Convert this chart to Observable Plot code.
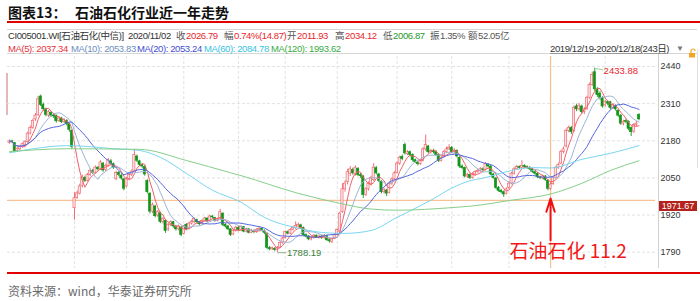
<!DOCTYPE html>
<html><head><meta charset="utf-8">
<script src="https://cdn.jsdelivr.net/npm/d3@7"></script>
<script src="https://cdn.jsdelivr.net/npm/@observablehq/plot@0.6"></script>
<style>
body{margin:0;background:#fff;}
#wrap{position:relative;width:700px;height:301px;overflow:hidden;font-family:"Liberation Sans","Noto Sans CJK SC",sans-serif;color:#444;}
.t{position:absolute;white-space:nowrap;line-height:12px;font-size:9.5px;letter-spacing:-0.4px;}
#chart{position:absolute;left:0;top:56px;}
.title{position:absolute;top:3px;font-family:"Noto Sans CJK SC",sans-serif;font-weight:700;font-size:14px;line-height:18px;color:#111;white-space:nowrap;}
</style></head>
<body><div id="wrap"></div>
<script>
// ---------------- data ----------------
const titleLabel = "图表13：";
const titleText = "石油石化行业近一年走势";
const sourceText = "资料来源：wind，华泰证券研究所";
const quoteName = "CI005001.WI[石油石化(中信)]";
const quoteDate = "2020/11/02";
const quoteLabels = ["收","幅","开","高","低","振","额"];
const quoteValues = ["2026.79","0.74%(14.87)","2011.93","2034.12","2006.87","1.35%","52.05亿"];
const quoteTones = ["up","up","up","up","down","flat","flat"];
const maPeriods = [5,10,20,60,120];
const maLegendValues = [2037.34,2053.83,2053.24,2084.78,1993.62];
const rangeLabel = "2019/12/19-2020/12/18(243日)";
const yTicks = [1790,1920,2050,2180,2310,2440];
const monthStartDays = [25,45,67,88,106,126,149,170,192,208,229];
const markDay = 208;            // 2020/11/02
const markPrice = 1971.67;
const highDay = 225, highPrice = 2433.88;
const lowDay = 103, lowPrice = 1788.19;
const annotationText = "石油石化 11.2";

const opens = [2172,2178,2172,2145,2150,2158,2166,2175,2205,2225,2255,2270,2335,2305,2290,2268,2278,2270,2268,2250,2258,2246,2250,2238,2215,
1944,1980,1995,2022,2050,2040,2060,2074,2068,2086,2080,2100,2078,2092,2108,2098,2046,2068,2058,2045,
2020,2046,2060,2075,2125,2108,2096,2088,2040,1995,1932,1950,1918,1926,1896,1900,1870,1886,1895,1880,1870,1876,
1854,1886,1872,1890,1895,1902,1895,1888,1900,1908,1900,1915,1910,1900,1905,1925,1886,1880,1870,1852,1865,
1875,1868,1878,1862,1870,1858,1865,1860,1868,1872,1865,1855,1805,1800,1802,1798,1806,1822,
1840,1860,1855,1868,1875,1880,1884,1875,1850,1845,1835,1840,1848,1840,1845,1840,1846,1832,1826,1838,
1852,1862,1930,2010,2035,2065,2078,2062,2082,2060,2055,1990,2010,2028,2042,2084,2062,2036,2000,2006,1998,2030,2045,
2068,2100,2124,2165,2134,2140,2130,2112,2103,2098,2110,2150,2160,2140,2145,2140,2130,2110,2124,2140,2150,
2155,2140,2145,2120,2090,2085,2055,2060,2050,2062,2070,2075,2080,2078,2095,2090,2062,2048,2015,2005,2000,1995,
2015,2030,2065,2080,2088,2085,2092,2088,2085,2080,2070,2065,2052,2048,2055,2040,
2011.93,2028,2050,2085,2100,2140,2160,2215,2225,2215,2300,2290,2300,2280,2290,2330,2375,2420,2360,2345,2330,
2305,2315,2315,2295,2302,2285,2268,2240,2250,2246,2225,2212,2235,2270];
const highs = [2183,2182,2174,2156,2162,2172,2180,2210,2232,2256,2275,2335,2340,2312,2294,2286,2282,2276,2270,2264,2262,2258,2254,2242,2218,
1998,2004,2028,2060,2056,2066,2082,2080,2092,2090,2110,2104,2098,2118,2114,2102,2074,2072,2064,2048,
2052,2066,2078,2150,2130,2112,2100,2092,2044,1998,1962,1954,1936,1930,1912,1904,1892,1900,1898,1884,1885,1880,
1884,1890,1894,1902,1910,1906,1898,1904,1912,1910,1920,1918,1912,1910,1940,1928,1890,1884,1872,1870,1880,
1880,1882,1880,1874,1872,1870,1868,1872,1878,1875,1868,1857,1810,1808,1806,1810,1826,1842,
1865,1864,1872,1880,1896,1892,1888,1878,1854,1848,1845,1852,1850,1850,1848,1852,1850,1836,1840,1855,
1872,1930,2030,2040,2080,2090,2084,2092,2086,2066,2058,2016,2036,2056,2100,2090,2066,2040,2014,2010,2036,2050,2072,
2106,2126,2130,2172,2146,2144,2134,2116,2108,2114,2156,2200,2164,2150,2150,2145,2134,2126,2146,2158,2166,
2160,2152,2148,2124,2096,2088,2066,2064,2068,2075,2080,2086,2085,2104,2100,2094,2066,2052,2020,2010,2004,2015,
2036,2070,2086,2094,2092,2110,2096,2092,2090,2084,2074,2068,2056,2060,2058,2044,
2034.12,2055,2090,2102,2146,2158,2222,2232,2230,2302,2308,2310,2305,2296,2336,2382,2420,2433.88,2366,2352,2334,
2322,2320,2318,2310,2306,2290,2272,2252,2256,2250,2228,2240,2248,2275];
const lows = [2168,2170,2138,2140,2146,2154,2162,2172,2200,2220,2248,2265,2300,2284,2264,2262,2262,2258,2242,2245,2240,2240,2232,2210,2150,
1902,1975,1990,2015,2034,2036,2055,2062,2064,2074,2076,2070,2072,2088,2094,2080,2040,2054,2042,2005,
2015,2040,2055,2072,2104,2090,2084,2056,1994,1924,1925,1910,1912,1890,1888,1856,1862,1880,1874,1864,1864,1844,
1850,1865,1868,1885,1890,1890,1882,1884,1896,1895,1896,1906,1895,1896,1902,1880,1874,1866,1845,1848,1860,
1862,1864,1858,1858,1854,1855,1855,1856,1864,1862,1852,1800,1795,1796,1792,1788.19,1802,1818,
1836,1850,1852,1864,1870,1876,1870,1846,1840,1830,1830,1836,1838,1836,1835,1836,1828,1822,1820,1834,
1848,1858,1926,2000,2025,2055,2060,2056,2054,2048,1978,1985,2004,2022,2038,2060,2034,1994,1994,1985,1994,2024,2040,
2064,2094,2110,2130,2128,2124,2106,2100,2092,2094,2106,2144,2134,2134,2134,2125,2104,2106,2120,2136,2146,
2136,2136,2120,2084,2080,2050,2048,2044,2046,2058,2066,2070,2072,2074,2085,2058,2046,2010,2000,1995,1982,1990,
2010,2026,2060,2076,2080,2082,2084,2080,2076,2066,2060,2048,2044,2044,2038,2005,
2006.87,2024,2046,2080,2096,2134,2155,2208,2202,2210,2282,2284,2274,2272,2286,2325,2370,2352,2332,2322,2294,
2298,2302,2288,2290,2284,2262,2234,2232,2240,2215,2195,2206,2228,2250];
const closes = [2178,2175,2143,2152,2158,2168,2175,2205,2225,2250,2268,2325,2305,2290,2270,2280,2268,2265,2248,2258,2245,2252,2238,2218,2158,
1979,1996,2020,2052,2040,2060,2075,2068,2086,2080,2104,2076,2092,2112,2100,2086,2068,2060,2048,2012,
2046,2060,2072,2130,2110,2096,2090,2062,2000,1932,1956,1916,1930,1896,1906,1864,1886,1895,1880,1870,1880,1850,
1878,1870,1890,1896,1906,1895,1888,1900,1908,1900,1915,1912,1900,1906,1930,1886,1880,1870,1850,1865,1876,
1868,1878,1862,1870,1858,1865,1860,1868,1872,1866,1858,1805,1800,1804,1798,1805,1822,1838,
1860,1855,1868,1875,1882,1886,1875,1850,1845,1835,1840,1848,1842,1845,1840,1848,1832,1828,1836,1850,
1868,1925,2010,2030,2070,2080,2066,2086,2060,2056,1990,2010,2030,2050,2086,2066,2040,2000,2008,1995,2030,2045,2066,
2100,2120,2116,2136,2140,2130,2112,2105,2098,2110,2150,2165,2140,2145,2140,2130,2110,2120,2140,2150,2156,
2140,2146,2125,2090,2085,2055,2060,2050,2062,2070,2075,2080,2078,2098,2090,2062,2050,2015,2005,2000,1992,2010,
2030,2065,2080,2088,2085,2092,2088,2085,2080,2070,2065,2052,2050,2055,2043,2011.92,
2026.79,2050,2085,2095,2140,2150,2215,2225,2210,2295,2290,2302,2280,2290,2330,2375,2410,2360,2340,2330,2300,
2315,2310,2295,2305,2290,2268,2240,2246,2246,2222,2210,2235,2240,2255];
// MA(60) and MA(120): [trading-day index, value]
const ma60Points = [[0,2138],[9,2152],[22,2163],[30,2160],[39,2153],[50,2146],[58,2122],[68,2066],[78,2007],[89,1965],[98,1912],[111,1874],[123,1857],[129,1856],[139,1866],[149,1912],[162,1972],[170,2014],[177,2040],[182,2049],[193,2076],[201,2086],[208,2084.78],[220,2115],[231,2136],[242,2163]];
const ma120Points = [[0,2142],[22,2152],[50,2150],[68,2111],[85,2068],[89,2058],[111,1996],[127,1961],[139,1941],[149,1937],[170,1946],[177,1951],[193,1972],[208,1993.62],[220,2031],[231,2076],[242,2110]];

// ---------------- styling ----------------
const upColor = "#ee5f68", upFill = "#fde3e4", downColor = "#12951a";
const maColors = ["#f0606c","#9db3d6","#5366df","#7ad6f0","#86cf8a"];
const maLegendColors = ["#e8333d","#6b8fbf","#3f4fd6","#36c3e3","#3aac45"];
const toneColors = {up:"#e8262d", down:"#1d9a2c", flat:"#555"};

const wrap = document.getElementById("wrap");
function addText(txt, left, top, style) {
  const d = document.createElement("div");
  d.className = "t"; d.textContent = txt;
  d.style.left = left + "px"; d.style.top = top + "px";
  Object.assign(d.style, style || {});
  wrap.appendChild(d); return d;
}
function addBox(left, top, w, h, style) {
  const d = document.createElement("div");
  Object.assign(d.style, {position:"absolute", left:left+"px", top:top+"px", width:w+"px", height:h+"px"}, style);
  wrap.appendChild(d); return d;
}
// title
const t1 = document.createElement("div"); t1.className="title"; t1.style.left="8px"; t1.textContent=titleLabel; wrap.appendChild(t1);
const t2 = document.createElement("div"); t2.className="title"; t2.style.left="75px"; t2.textContent=titleText; wrap.appendChild(t2);
addBox(7, 21, 693, 2, {background:"#e00000"});
// info box
addBox(7, 29, 690, 1, {background:"#d8d8d8"});
addBox(7, 53, 690, 1, {background:"#d8d8d8"});
addText(quoteName, 8, 30, {color:"#333"});
addText(quoteDate, 128, 30, {color:"#333"});
const quoteX = [176,224,287,335,383,430,468];
quoteLabels.forEach((lab,k) => {
  const d = addText("", quoteX[k], 30, {color:"#555"});
  const a = document.createElement("span"); a.textContent = lab; a.style.marginRight = "1px"; d.appendChild(a);
  const b = document.createElement("span"); b.textContent = quoteValues[k]; b.style.color = toneColors[quoteTones[k]]; d.appendChild(b);
});
const maX = [8,71,137,204,271];
maPeriods.forEach((p,k) => addText(`MA(${p}): ${maLegendValues[k].toFixed(2)}`, maX[k], 43, {color:maLegendColors[k]}));
addText(rangeLabel, 550, 43, {color:"#333", textDecoration:"underline", textDecorationColor:"#999"});
addText("▼", 676, 43, {color:"#777", fontSize:"8px"});
const lock = addBox(688, 44, 10, 10, {});
lock.innerHTML = '<svg width="10" height="10"><path d="M3 5 V3 a2 2 0 0 1 4 0" fill="none" stroke="#f2a623" stroke-width="1.2"/><rect x="1" y="5" width="6" height="4.5" fill="#f2a623"/></svg>';
// right-side separators
addBox(658, 54, 1, 214, {background:"#d0d0d0"});
addBox(697, 50, 1, 118, {background:"#e0e0e0"});
addBox(6, 73, 2, 42, {background:"#e3b8b8"});
// footer
addBox(7, 272, 693, 2, {background:"#e00000"});
addText(sourceText, 8, 283, {fontFamily:"'Noto Sans CJK SC',sans-serif", fontSize:"12px", lineHeight:"16px", letterSpacing:"0", color:"#6a6a6a"});

// ---------------- chart ----------------
const days = d3.range(closes.length);
const candles = days.map(i => ({i, o: opens[i], h: highs[i], l: lows[i], c: closes[i], up: closes[i] >= opens[i]}));
function movingAverage(k) {
  return days.map(i => ({i, v: d3.mean(closes.slice(Math.max(0, i - k + 1), i + 1))}));
}
const maSeries = [movingAverage(5), movingAverage(10), movingAverage(20),
  ma60Points.map(([i,v]) => ({i, v})), ma120Points.map(([i,v]) => ({i, v}))];

const chart = Plot.plot({
  width: 700, height: 212,
  marginLeft: 7, marginRight: 45, marginTop: 0, marginBottom: 0,
  style: {fontFamily: "Liberation Sans, sans-serif", background: "transparent"},
  x: {type: "linear", domain: [0, 242], range: [9, 638.5], axis: null},
  y: {domain: [1790, 2440], range: [195.7, 10]},
  marks: [
    Plot.ruleY(yTicks, {stroke: "#e2e2e2", strokeDasharray: "3,2"}),
    Plot.ruleX(monthStartDays, {stroke: "#e2e2e2", strokeDasharray: "3,2"}),
    Plot.axisY(yTicks, {anchor: "right", tickSize: 0, tickPadding: 5, fontSize: 9, fill: "#333", label: null, tickFormat: d => String(d)}),
    Plot.ruleY([markPrice], {stroke: "#f5b27c", strokeWidth: 1}),
    Plot.ruleX([markDay], {stroke: "#f5c08f", strokeWidth: 1.2}),
    Plot.ruleX(candles, {x: "i", y1: "l", y2: "h", stroke: d => d.up ? upColor : downColor, strokeWidth: 0.9}),
    Plot.rect(candles, {x1: d => d.i - 0.42, x2: d => d.i + 0.42, y1: "o", y2: "c",
      fill: d => d.up ? upFill : downColor, stroke: d => d.up ? upColor : downColor, strokeWidth: 0.6}),
    ...maSeries.map((s, k) => Plot.line(s, {x: "i", y: "v", stroke: maColors[k], strokeWidth: 1, curve: k >= 3 ? "monotone-x" : "linear"})),
    // extreme labels
    Plot.link([{x1: highDay, y1: highPrice, x2: highDay + 3.2, y2: highPrice - 6}], {x1: "x1", y1: "y1", x2: "x2", y2: "y2", stroke: "#9ccf9c", strokeWidth: 1}),
    Plot.text([{x: highDay + 3.4, y: highPrice - 10, t: highPrice.toFixed(2)}], {x: "x", y: "y", text: "t", textAnchor: "start", fill: "#e8262d", fontSize: 9.5}),
    Plot.link([{x1: lowDay, y1: lowPrice, x2: lowDay + 3.4, y2: lowPrice}], {x1: "x1", y1: "y1", x2: "x2", y2: "y2", stroke: "#8fb08f", strokeWidth: 1}),
    Plot.text([{x: lowDay + 3.7, y: lowPrice, t: lowPrice.toFixed(2)}], {x: "x", y: "y", text: "t", textAnchor: "start", fill: "#3d7f3d", fontSize: 9.5}),
    // annotation arrow and label
    Plot.arrow([{x: markDay, y1: 1832, y2: 1978}], {x1: "x", x2: "x", y1: "y1", y2: "y2", stroke: "#f01010", strokeWidth: 2, headLength: 11, headAngle: 35}),
    Plot.text([{x: markDay, y: 1790, t: annotationText}], {x: "x", y: "y", text: "t", textAnchor: "start", dx: -41, fill: "#f01818", fontSize: 19, fontFamily: "Noto Sans CJK SC, sans-serif"})
  ]
});
const holder = document.createElement("div"); holder.id = "chart"; holder.appendChild(chart); wrap.appendChild(holder);
// current-price box on the right axis
const py = chart.scale("y").apply(markPrice) + 56;
const box = addBox(659, Math.round(py) + 1, 38, 10, {background:"#b3221c", color:"#fff", fontSize:"9px", lineHeight:"10px", textAlign:"center"});
box.textContent = markPrice.toFixed(2);
</script>
</body></html>
